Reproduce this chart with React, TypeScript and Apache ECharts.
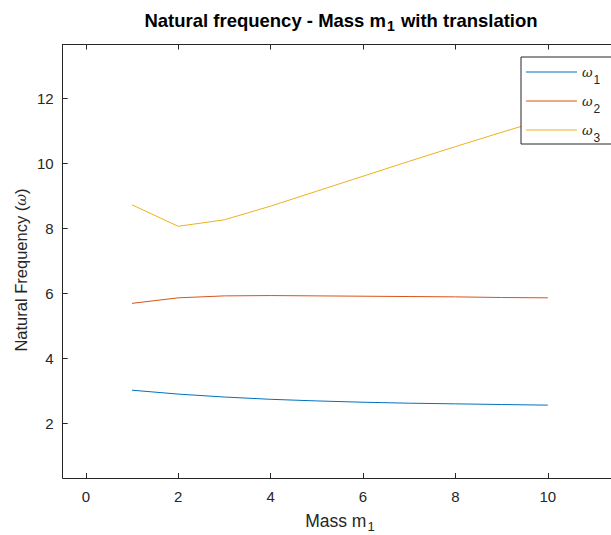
import React, { useEffect, useRef } from "react";
import * as echarts from "echarts";

const massValues = [1, 2, 3, 4, 5, 6, 7, 8, 9, 10];
const omega1 = [3.02, 2.9, 2.81, 2.74, 2.69, 2.65, 2.62, 2.6, 2.58, 2.56];
const omega2 = [5.69, 5.86, 5.92, 5.93, 5.92, 5.91, 5.9, 5.89, 5.87, 5.86];
const omega3 = [8.72, 8.06, 8.26, 8.68, 9.14, 9.6, 10.06, 10.51, 10.95, 11.38];
const seriesNames = ["ω1", "ω2", "ω3"];
const xTicks = [0, 2, 4, 6, 8, 10];
const yTicks = [2, 4, 6, 8, 10, 12];
const colors = ["#0072BD", "#D95319", "#EDB120"];

const FONT = "'Liberation Sans', Arial, Helvetica, sans-serif";
const AX = "#262626";

export default function App() {
  const ref = useRef<HTMLDivElement>(null);
  useEffect(() => {
    if (!ref.current) return;
    const chart = echarts.init(ref.current, undefined, { renderer: "svg" });
    const allSeries = [omega1, omega2, omega3];
    const axisCommon = {
      type: "value" as const,
      splitLine: { show: false },
      axisLine: { show: true, onZero: false, lineStyle: { color: AX, width: 1 } },
      axisTick: { show: true, inside: true, length: 5, lineStyle: { color: AX, width: 1 } },
    };
    chart.setOption({
      animation: false,
      backgroundColor: "#ffffff",
      textStyle: { fontFamily: FONT },
      graphic: [
        {
          type: "text",
          x: 341,
          y: 10,
          style: {
            text: "{b|Natural frequency - Mass m}{bs|1}{b| with translation}",
            align: "center",
            verticalAlign: "top",
            fill: "#000",
            rich: {
              b: { fontFamily: FONT, fontWeight: "bold", fontSize: 18.5, lineHeight: 20, fill: "#000" },
              bs: { fontFamily: FONT, fontWeight: "bold", fontSize: 14, lineHeight: 14, padding: [12, 1, 0, 1], fill: "#000" },
            },
          },
        },
        {
          type: "text",
          x: 21,
          y: 270,
          rotation: Math.PI / 2,
          style: {
            text: "{n|Natural Frequency (}{w|ω}{n|)}",
            align: "center",
            verticalAlign: "middle",
            fill: AX,
            rich: {
              n: { fontFamily: FONT, fontSize: 16.5, lineHeight: 18, fill: AX },
              w: { fontFamily: "'DejaVu Serif', serif", fontStyle: "italic", fontSize: 14.5, lineHeight: 18, fill: AX },
            },
          },
        },
      ],
      grid: {
        left: 62.7,
        top: 44.5,
        width: 554.4,
        height: 433.5,
        containLabel: false,
        outerBoundsMode: "none",
      },
      legend: {
        show: true,
        orient: "vertical",
        left: 521,
        top: 57,
        data: seriesNames,
        backgroundColor: "#ffffff",
        borderColor: AX,
        borderWidth: 1,
        borderRadius: 0,
        padding: [1, 14, 0, 5],
        icon: "rect",
        itemWidth: 51,
        itemHeight: 1,
        itemGap: 1,
        formatter: (name: string) => `{w|ω}{s|${name.slice(1)}}`,
        textStyle: {
          color: AX,
          rich: {
            w: { fontFamily: "'DejaVu Serif', serif", fontStyle: "italic", fontSize: 13, lineHeight: 14, color: AX },
            s: { fontFamily: FONT, fontSize: 12, lineHeight: 12, padding: [16, 0, 0, 1], color: AX },
          },
        },
      },
      xAxis: [
        {
          ...axisCommon,
          position: "bottom",
          min: -0.5,
          max: 11.5,
          axisTick: { ...axisCommon.axisTick, customValues: xTicks },
          axisLabel: { customValues: xTicks, margin: 11, fontSize: 15, color: AX, fontFamily: FONT },
          name: "{n|Mass m}{ns|1}",
          nameLocation: "middle",
          nameGap: 33,
          nameTextStyle: {
            rich: {
              n: { fontFamily: FONT, fontSize: 17.5, lineHeight: 18, color: AX },
              ns: { fontFamily: FONT, fontSize: 13, lineHeight: 13, padding: [11, 0, 0, 1], color: AX },
            },
          },
        },
        {
          ...axisCommon,
          position: "top",
          min: -0.5,
          max: 11.5,
          axisTick: { ...axisCommon.axisTick, customValues: xTicks },
          axisLabel: { show: false },
        },
      ],
      yAxis: [
        {
          ...axisCommon,
          position: "left",
          min: 0.32,
          max: 13.65,
          axisTick: { ...axisCommon.axisTick, customValues: yTicks },
          axisLabel: { customValues: yTicks, margin: 9, fontSize: 15, color: AX, fontFamily: FONT },
        },
      ],
      series: allSeries.map((vals, i) => ({
        name: seriesNames[i],
        type: "line",
        xAxisIndex: 0,
        yAxisIndex: 0,
        data: massValues.map((m, j) => [m, vals[j]]),
        symbol: "none",
        showSymbol: false,
        color: colors[i],
        lineStyle: { color: colors[i], width: 1 },
        emphasis: { disabled: true },
      })),
    });
    return () => chart.dispose();
  }, []);
  return (
    <div
      ref={ref}
      style={{ position: "fixed", left: 0, top: 0, width: 611, height: 535, background: "#fff" }}
    />
  );
}
